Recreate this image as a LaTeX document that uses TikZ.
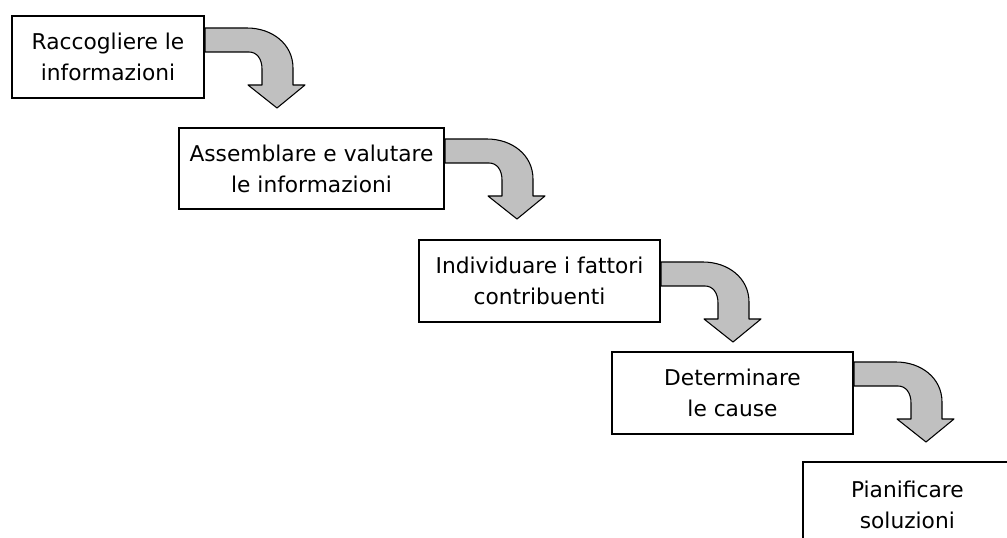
\documentclass[tikz,border=0pt]{standalone}
\usepackage{fontspec}
\setmainfont{DejaVu Sans}
\usetikzlibrary{calc}
\begin{document}
\begin{tikzpicture}[x=0.75pt,y=-0.75pt,
  stepbox/.style={draw=black,line width=1.5pt,fill=white,align=center,inner sep=0pt,
    anchor=north west,font=\fontsize{16.3pt}{23.25pt}\selectfont},
  boxline/.style={draw=black,line width=1.5pt},
  arrowshape/.style={draw=black,line width=0.8pt,fill=arrowgray,line join=round},
  pics/bent/.style={code={
    \path[arrowshape] (0,0) -- (42,0) .. controls (67,0) and (88,16) .. (88,40)
      -- (88,57) -- (100,57) -- (72,80) -- (43,57) -- (57,57) -- (57,41)
      .. controls (57,31) and (52,24) .. (44,24) -- (0,24) -- cycle;
  }}]
\definecolor{arrowgray}{HTML}{C0C0C0}
\useasboundingbox (0,0) rectangle (1007,538);
\clip (0,0) rectangle (1007,538);
\node[stepbox,minimum width=144pt,minimum height=61.5pt] (b1) at (11,15) {Raccogliere le\\informazioni};
\node[stepbox,minimum width=198.75pt,minimum height=60.75pt] (b2) at (178,127) {Assemblare e valutare\\le informazioni};
\node[stepbox,minimum width=180.75pt,minimum height=61.5pt] (b3) at (418,239) {Individuare i fattori\\contribuenti};
\node[stepbox,minimum width=180.75pt,minimum height=61.5pt] (b4) at (611,351) {Determinare\\le cause};
\node[stepbox,draw=none,minimum width=155pt,minimum height=63pt] (b5) at (803,462) {Pianificare\\soluzioni};
\draw[boxline] (b5.south west) -- (b5.north west) -- ($(b5.north east)+(30,0)$);
\pic at ($(b1.north east)+(0,13)$) {bent};
\pic at ($(b2.north east)+(0,12)$) {bent};
\pic at ($(b3.north east)+(0,23)$) {bent};
\pic at ($(b4.north east)+(0,11)$) {bent};
\end{tikzpicture}
\end{document}
